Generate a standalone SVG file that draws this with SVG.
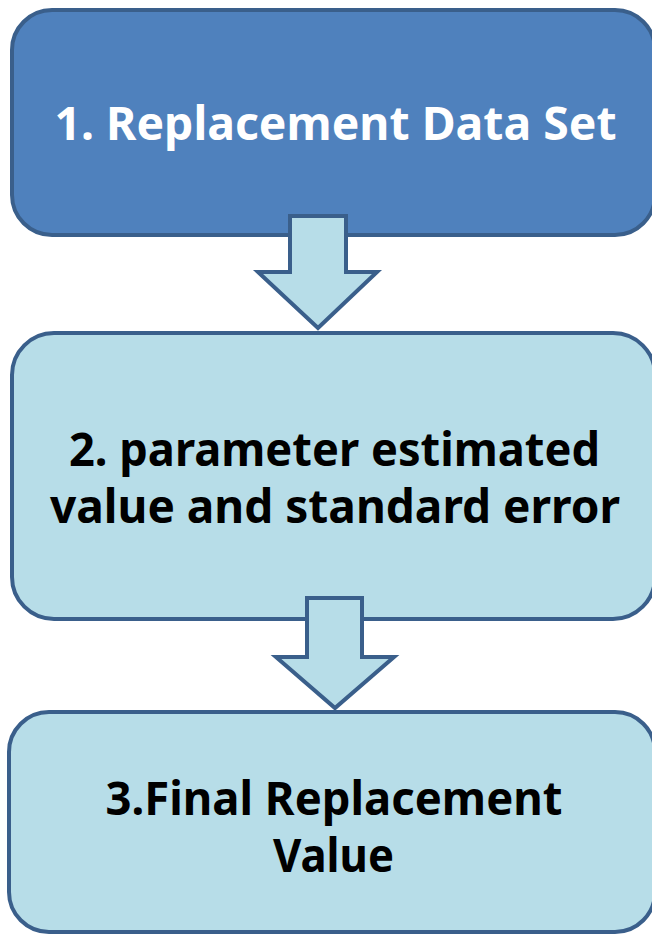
<svg xmlns="http://www.w3.org/2000/svg" width="652" height="935" viewBox="0 0 652 935">
<style>
.box{stroke:#3A5F8B;stroke-width:4}
.dark{fill:#4F81BD}
.light{fill:#B7DDE8}
.arrow{fill:#B7DDE8;stroke:#3A5F8B;stroke-width:4;stroke-linejoin:miter}
text{font-family:"Noto Sans","Open Sans","DejaVu Sans",sans-serif;font-weight:bold;font-size:46px;text-anchor:middle}
.w{fill:#FFFFFF}
.k{fill:#000000}
</style>
<rect x="0" y="0" width="652" height="935" fill="#FFFFFF"/>
<g id="node1">
<rect class="box dark" x="12" y="10" width="643" height="225" rx="40" ry="40"/>
<text class="w" x="335.5" y="140" textLength="562" lengthAdjust="spacingAndGlyphs">1. Replacement Data Set</text>
</g>
<g id="node2">
<rect class="box light" x="12" y="333" width="643" height="286" rx="42" ry="42"/>
<text class="k" x="334.5" y="466" textLength="531" lengthAdjust="spacingAndGlyphs">2. parameter estimated</text>
<text class="k" x="335" y="523" textLength="570" lengthAdjust="spacingAndGlyphs">value and standard error</text>
</g>
<g id="node3">
<rect class="box light" x="9" y="712" width="646" height="220" rx="40" ry="40"/>
<text class="k" x="334" y="815" textLength="457" lengthAdjust="spacingAndGlyphs">3.Final Replacement</text>
<text class="k" x="333.5" y="872" textLength="121" lengthAdjust="spacingAndGlyphs">Value</text>
</g>
<g id="connectors">
<polygon class="arrow" points="290,216 346,216 346,272 377,272 318,328 258,272 290,272"/>
<polygon class="arrow" points="307,598 362,598 362,657 394,657 335,708 276,657 307,657"/>
</g>
</svg>
